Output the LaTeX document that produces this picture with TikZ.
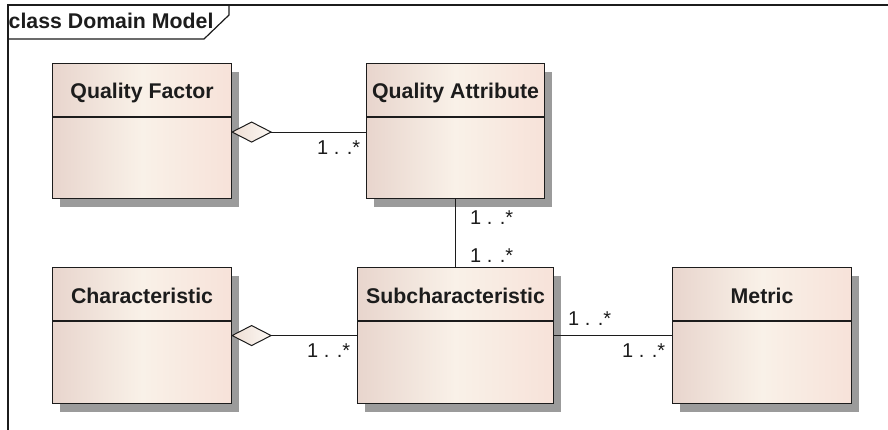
\documentclass[tikz,border=0pt]{standalone}
\usepackage{fontspec}
\setmainfont{Liberation Sans}
\definecolor{boxL}{RGB}{232,213,205}
\definecolor{boxM}{RGB}{249,241,232}
\definecolor{boxR}{RGB}{247,226,217}
\definecolor{shadowgray}{RGB}{155,155,155}
\definecolor{ink}{RGB}{28,28,28}
\definecolor{diaL}{RGB}{238,222,212}
\definecolor{diaR}{RGB}{252,248,244}
\tikzset{
  classbox/.style={draw=ink, line width=1.1pt, rectangle, inner sep=0pt, anchor=north west,
    left color=boxL, right color=boxR, middle color=boxM,
    preaction={fill=shadowgray, transform canvas={xshift=7pt, yshift=-8pt}}},
  classtitle/.style={font=\fontsize{21.3}{25}\selectfont\bfseries, text=ink, inner sep=0pt, anchor=base},
  mult/.style={font=\fontsize{20}{24}\selectfont, text=ink, inner sep=0pt, anchor=base west},
  conn/.style={draw=ink, line width=1pt},
  diamondstyle/.style={draw=ink, line width=1pt, left color=diaL, right color=diaR},
  framestyle/.style={draw=ink, line width=1.2pt}
}
\newcommand{\sepline}[1]{\draw[draw=ink, line width=1.1pt] ([yshift=-54pt]#1.north west) -- ([yshift=-54pt]#1.north east);}
\newcommand{\aggdiamond}[1]{\path[diamondstyle] (#1) -- ++(19.5,-10) -- ++(19.5,10) -- ++(-19.5,10) -- cycle;}
\begin{document}
\begin{tikzpicture}[x=1pt,y=-1pt]
\useasboundingbox (0,0) rectangle (888,430);
% frame
\draw[framestyle] (8,430) -- (8,5) -- (888,5);
\draw[framestyle] (8,39) -- (204,39) -- (229,15) -- (229,5);
\node[font=\fontsize{21.3}{25}\selectfont\bfseries, text=ink, inner sep=0pt, anchor=base west] (frametitle) at (8.5,29) {class Domain Model};
% boxes
\node[classbox, minimum width=179pt, minimum height=135pt] (qf) at (52,63) {};
\node[classbox, minimum width=178pt, minimum height=135pt] (qa) at (366,63) {};
\node[classbox, minimum width=179pt, minimum height=136pt] (ch) at (52,267) {};
\node[classbox, minimum width=196pt, minimum height=136pt] (sub) at (357,267) {};
\node[classbox, minimum width=179pt, minimum height=136pt] (met) at (672,267) {};
\sepline{qf}\sepline{qa}\sepline{ch}\sepline{sub}\sepline{met}
\node[classtitle] (qft) at ([yshift=-36pt]qf.north) {Quality Factor};
\node[classtitle] (qat) at ([yshift=-36pt]qa.north) {Quality Attribute};
\node[classtitle] (cht) at ([yshift=-36pt]ch.north) {Characteristic};
\node[classtitle] (subt) at ([yshift=-36pt]sub.north) {Subcharacteristic};
\node[classtitle] (mett) at ([yshift=-36pt]met.north) {Metric};
% connectors
\coordinate (qfa) at ([yshift=-1pt]qf.east);
\draw[conn] ([xshift=39pt]qfa) -- (qfa -| qa.west);
\aggdiamond{qfa}
\draw[conn] (qa.south) -- (qa.south |- sub.north);
\coordinate (cha) at (ch.east);
\draw[conn] ([xshift=39pt]cha) -- (cha -| sub.west);
\aggdiamond{cha}
\draw[conn] (sub.east) -- (sub.east -| met.west);
% multiplicities
\node[mult] (m1) at (317,155) {1 . .*};
\node[mult] (m2) at (470,225) {1 . .*};
\node[mult] (m3) at (470,262) {1 . .*};
\node[mult] (m4) at (568,325) {1 . .*};
\node[mult] (m5) at (622,357) {1 . .*};
\node[mult] (m6) at (307,357) {1 . .*};
\end{tikzpicture}
\end{document}
